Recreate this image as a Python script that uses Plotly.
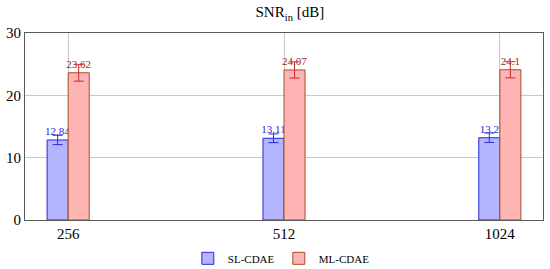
import plotly.graph_objects as go

categories = ["256", "512", "1024"]
sl_values = [12.84, 13.11, 13.2]
sl_errors = [0.75, 0.7, 0.75]
ml_values = [23.62, 24.07, 24.1]
ml_errors = [1.35, 1.3, 1.3]
y_ticks = [0, 10, 20, 30]

FONT = "Liberation Serif"

fig = go.Figure()
fig.add_trace(go.Bar(
    name="SL-CDAE", x=categories, y=sl_values,
    marker=dict(color="rgb(180,180,255)", line=dict(color="rgb(40,40,220)", width=1)),
    error_y=dict(type="data", array=sl_errors, color="rgb(40,40,220)", thickness=1, width=5),
    text=[str(v) for v in sl_values], textposition="outside", constraintext="none",
    textfont=dict(color="rgb(40,40,210)", size=11, family=FONT),
    cliponaxis=False,
))
fig.add_trace(go.Bar(
    name="ML-CDAE", x=categories, y=ml_values,
    marker=dict(color="rgb(255,180,180)", line=dict(color="rgb(160,80,40)", width=1)),
    error_y=dict(type="data", array=ml_errors, color="rgb(200,40,40)", thickness=1, width=5),
    text=[str(v) for v in ml_values], textposition="outside", constraintext="none",
    textfont=dict(color="rgb(160,40,40)", size=11, family=FONT),
    cliponaxis=False,
))

fig.update_layout(
    width=550, height=269,
    margin=dict(l=25, r=7, t=33, b=49, autoexpand=False),
    paper_bgcolor="white", plot_bgcolor="white",
    barmode="group", bargap=0.805, bargroupgap=0,
    font=dict(family=FONT, size=14, color="black"),
    title=dict(text="SNR<sub>in</sub> [dB]", x=0.527, xanchor="center", y=0.955, yanchor="middle",
               font=dict(family=FONT, size=15)),
    showlegend=True,
    legend=dict(orientation="h", x=0.49, xanchor="center", y=-0.205, yanchor="middle",
                font=dict(family=FONT, size=11), itemwidth=30, tracegroupgap=0,
                entrywidth=46, entrywidthmode="pixels",
                bgcolor="rgba(0,0,0,0)"),
)
fig.update_xaxes(
    type="category", range=[-0.2, 2.2],
    showgrid=True, gridcolor="rgb(200,200,200)", gridwidth=1,
    showline=True, linecolor="rgb(90,90,90)", linewidth=1, mirror=True,
    ticks="", tickfont=dict(size=15),
)
fig.update_yaxes(
    range=[0, 30], tickvals=y_ticks,
    showgrid=True, gridcolor="rgb(200,200,200)", gridwidth=1,
    showline=True, linecolor="rgb(90,90,90)", linewidth=1, mirror=True,
    zeroline=False, ticks="", tickfont=dict(size=15),
)

fig.write_html("out.html", config={"displayModeBar": False},
               post_script="document.body.style.margin='0';")
